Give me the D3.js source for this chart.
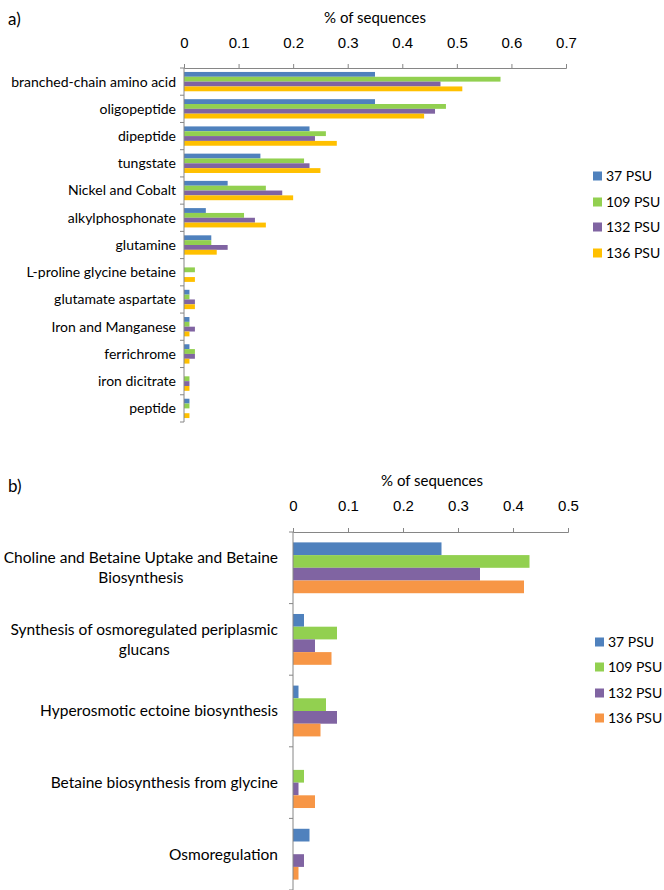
<!DOCTYPE html>
<html>
<head>
<meta charset="utf-8">
<script src="https://cdn.jsdelivr.net/npm/d3@7"></script>
<style>
  body { margin: 0; background: #fff; }
  svg { display: block; font-family: Lato, "Open Sans", sans-serif; }
  .axis path, .axis line { stroke: #868686; }
</style>
</head>
<body>
<svg id="chart" width="664" height="890"></svg>
<script>
// series shared by both panels
var seriesNames = ["37 PSU", "109 PSU", "132 PSU", "136 PSU"];

// panel a) transporters
var transportCats = ["branched-chain amino acid", "oligopeptide", "dipeptide", "tungstate",
  "Nickel and Cobalt", "alkylphosphonate", "glutamine", "L-proline glycine betaine",
  "glutamate aspartate", "Iron and Manganese", "ferrichrome", "iron dicitrate", "peptide"];
var transport37  = [0.35, 0.35, 0.23, 0.14, 0.08, 0.04, 0.05, 0.00, 0.01, 0.01, 0.01, 0.00, 0.01];
var transport109 = [0.58, 0.48, 0.26, 0.22, 0.15, 0.11, 0.05, 0.02, 0.01, 0.01, 0.02, 0.01, 0.01];
var transport132 = [0.47, 0.46, 0.24, 0.23, 0.18, 0.13, 0.08, 0.00, 0.02, 0.02, 0.02, 0.01, 0.00];
var transport136 = [0.51, 0.44, 0.28, 0.25, 0.20, 0.15, 0.06, 0.02, 0.02, 0.01, 0.01, 0.01, 0.01];
var transportTicks = [0, 0.1, 0.2, 0.3, 0.4, 0.5, 0.6, 0.7];

// panel b) osmoregulation
var osmoCats = ["Choline and Betaine Uptake and Betaine|Biosynthesis",
  "Synthesis of osmoregulated periplasmic|glucans",
  "Hyperosmotic ectoine biosynthesis", "Betaine biosynthesis from glycine", "Osmoregulation"];
var osmo37  = [0.27, 0.02, 0.01, 0.00, 0.03];
var osmo109 = [0.43, 0.08, 0.06, 0.02, 0.00];
var osmo132 = [0.34, 0.04, 0.08, 0.01, 0.02];
var osmo136 = [0.42, 0.07, 0.05, 0.04, 0.01];
var osmoTicks = [0, 0.1, 0.2, 0.3, 0.4, 0.5];

var svg = d3.select("#chart");

function drawPanel(p) {
  var g = svg.append("g");
  var x = d3.scaleLinear().domain([0, p.max]).range([p.x0, p.x1]);
  var y = d3.scaleBand().domain(p.cats).range([p.y0, p.y1]).paddingInner(0).paddingOuter(0);
  var inner = y.bandwidth() * 0.71;
  var sub = d3.scaleBand().domain(seriesNames).range([(y.bandwidth() - inner) / 2, (y.bandwidth() + inner) / 2]);

  // panel letter and title
  g.append("text").attr("x", 8).attr("y", p.letterY).style("font-size", "17px").text(p.letter);
  g.append("text").attr("x", p.titleX).attr("y", p.titleY).attr("text-anchor", "middle")
    .style("font-size", "15px").text("% of sequences");

  // bars
  p.cats.forEach(function(c, i) {
    var grp = g.append("g").attr("transform", "translate(0," + y(c) + ")");
    grp.selectAll("rect").data(p.values.map(function(v, k) { return { s: seriesNames[k], v: v[i] }; }))
      .enter().append("rect")
      .attr("x", x(0))
      .attr("y", function(d) { return sub(d.s); })
      .attr("height", sub.bandwidth())
      .attr("width", function(d) { return x(d.v) - x(0); })
      .attr("fill", function(d, k) { return p.colors[k]; });
  });

  // top axis
  var ax = g.append("g").attr("class", "axis").attr("transform", "translate(0," + p.y0 + ")")
    .call(d3.axisTop(x).tickValues(p.ticks).tickFormat(d3.format("")).tickSizeOuter(4).tickSize(4).tickPadding(p.tickPad));
  ax.selectAll("text").style("font-size", "15px").attr("fill", "#000");

  // vertical category axis
  g.append("line").attr("x1", x(0)).attr("x2", x(0)).attr("y1", p.y0).attr("y2", p.y1).attr("stroke", "#868686");
  g.selectAll(".ctick").data(p.cats.concat(["end"])).enter().append("line")
    .attr("x1", x(0) - 4).attr("x2", x(0))
    .attr("y1", function(d, i) { return p.y0 + i * y.bandwidth(); })
    .attr("y2", function(d, i) { return p.y0 + i * y.bandwidth(); })
    .attr("stroke", "#868686");

  // category labels (lines split with |, wrapped lines centred on first)
  p.cats.forEach(function(c) {
    var lines = c.split("|");
    var cy = y(c) + y.bandwidth() / 2;
    var lh = p.lineH;
    var top = cy - (lines.length - 1) * lh / 2;
    var first = g.append("text").attr("x", p.labelX).attr("y", top).attr("dy", "0.35em")
      .attr("text-anchor", "end").style("font-size", p.labelSize).text(lines[0]);
    if (lines.length > 1) {
      var w = first.node().getComputedTextLength();
      var mid = p.labelX - w / 2;
      for (var j = 1; j < lines.length; j++) {
        g.append("text").attr("x", mid).attr("y", top + j * lh).attr("dy", "0.35em")
          .attr("text-anchor", "middle").style("font-size", p.labelSize).text(lines[j]);
      }
    }
  });

  // legend
  var lg = g.selectAll(".leg").data(seriesNames).enter().append("g")
    .attr("transform", function(d, i) { return "translate(" + p.legX + "," + p.legY[i] + ")"; });
  lg.append("rect").attr("x", 0).attr("y", -4.5).attr("width", 9).attr("height", 9)
    .attr("fill", function(d, i) { return p.colors[i]; });
  lg.append("text").attr("x", 13).attr("dy", "0.35em").style("font-size", "14px").text(function(d) { return d; });
}

drawPanel({
  letter: "a)", letterY: 25, titleX: 375, titleY: 23,
  cats: transportCats, values: [transport37, transport109, transport132, transport136],
  ticks: transportTicks, max: 0.7,
  x0: 184, x1: 566, y0: 68, y1: 422, tickPad: 16,
  labelX: 176, labelSize: "14px", lineH: 18,
  colors: ["#4f81bd", "#92d050", "#8064a2", "#ffc000"],
  legX: 593, legY: [176, 202, 227, 253]
});

drawPanel({
  letter: "b)", letterY: 492, titleX: 432, titleY: 486,
  cats: osmoCats, values: [osmo37, osmo109, osmo132, osmo136],
  ticks: osmoTicks, max: 0.5,
  x0: 293, x1: 568, y0: 532, y1: 890, tickPad: 17,
  labelX: 278, labelSize: "15.5px", lineH: 20,
  colors: ["#4f81bd", "#92d050", "#8064a2", "#f79646"],
  legX: 595, legY: [642, 667, 693, 718]
});
</script>
</body>
</html>
